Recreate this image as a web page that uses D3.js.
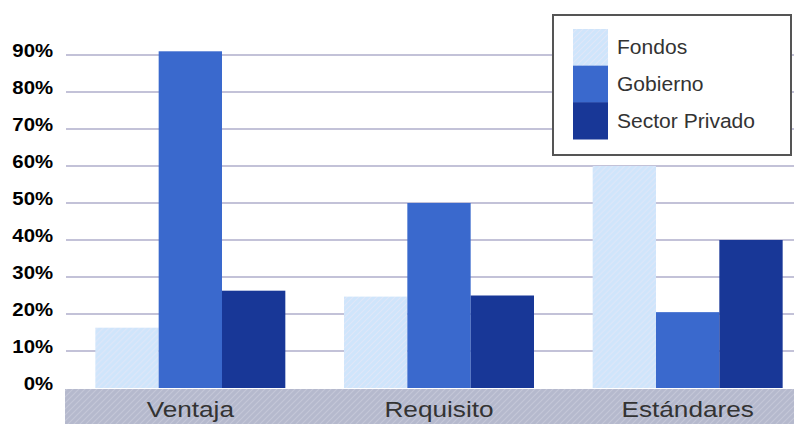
<!DOCTYPE html>
<html>
<head>
<meta charset="utf-8">
<script src="https://cdn.jsdelivr.net/npm/d3@7"></script>
<style>
  html, body { margin: 0; padding: 0; background: #fff; }
  svg { display: block; }
</style>
</head>
<body>
<svg id="chart" width="794" height="424"></svg>
<script>
// Data
const categories = ["Ventaja", "Requisito", "Estándares"];
const seriesNames = ["Fondos", "Gobierno", "Sector Privado"];
const fondos = [0.163, 0.247, 0.60];
const gobierno = [0.91, 0.50, 0.205];
const sectorPrivado = [0.263, 0.25, 0.40];
const yTicks = [0, 0.1, 0.2, 0.3, 0.4, 0.5, 0.6, 0.7, 0.8, 0.9];

const seriesValues = [fondos, gobierno, sectorPrivado];
const fills = ["url(#hatchFondos)", "#3a69cd", "#183797"];

const svg = d3.select("#chart");
const W = 794, H = 424;
const plotLeft = 66, plotRight = 794;

// Diagonal hatch patterns
const defs = svg.append("defs");
function hatch(id, base, line) {
  const p = defs.append("pattern")
    .attr("id", id).attr("patternUnits", "userSpaceOnUse")
    .attr("width", 6).attr("height", 6);
  p.append("rect").attr("width", 6).attr("height", 6).attr("fill", base);
  p.append("path")
    .attr("d", "M-1,1 L1,-1 M0,6 L6,0 M5,7 L7,5")
    .attr("stroke", line).attr("stroke-width", 1.2);
}
hatch("hatchFondos", "#cfe5fb", "#dfe7f8");
hatch("hatchBand", "#b5b9cd", "#c4c7d8");

// Scales
const x0 = d3.scaleBand()
  .domain(categories)
  .range([66, 812])
  .paddingInner(0.236)
  .paddingOuter(0.118);
const x1 = d3.scaleBand()
  .domain(seriesNames)
  .range([0, x0.bandwidth()]);
const y = d3.scaleLinear().domain([0, 0.9]).range([388, 55]);

// Gridlines
svg.append("g").selectAll("line")
  .data(yTicks.filter(d => d > 0))
  .join("line")
  .attr("x1", plotLeft).attr("x2", plotRight)
  .attr("y1", d => y(d)).attr("y2", d => y(d))
  .attr("stroke", "#afaecb").attr("stroke-width", 1.4);

// Y-axis labels
const yAxis = d3.axisLeft(y).tickValues(yTicks).tickFormat(d3.format(".0%")).tickSize(0);
const yg = svg.append("g").attr("transform", "translate(53,0)").call(yAxis);
yg.select(".domain").remove();
yg.selectAll(".tick").each(function(d) {
  const t = d3.select(this);
  t.attr("transform", `translate(0,${y(d) + 1.5})`);
  t.select("text")
    .attr("x", 0).attr("y", 0).attr("dy", null)
    .attr("text-anchor", "end")
    .attr("font-family", "Liberation Sans, Arial, sans-serif")
    .attr("font-weight", "bold")
    .attr("font-size", 18)
    .attr("fill", "#000")
    .attr("transform", "scale(1.13,1)");
});

// Category band
svg.append("rect")
  .attr("x", 65).attr("y", 389).attr("width", W - 65).attr("height", H - 389)
  .attr("fill", "url(#hatchBand)");

// Bars
const groups = svg.append("g").selectAll("g")
  .data(categories)
  .join("g")
  .attr("transform", d => `translate(${x0(d)},0)`);
groups.selectAll("rect")
  .data((c, i) => seriesNames.map((s, k) => ({ s, k, v: seriesValues[k][i] })))
  .join("rect")
  .attr("x", d => x1(d.s))
  .attr("width", x1.bandwidth())
  .attr("y", d => y(d.v))
  .attr("height", d => y(0) - y(d.v))
  .attr("fill", d => fills[d.k]);

// Category labels
svg.append("g").selectAll("text")
  .data(categories)
  .join("text")
  .attr("transform", d => `translate(${x0(d) + x0.bandwidth() / 2},417) scale(1.19,1)`)
  .attr("text-anchor", "middle")
  .attr("font-family", "Liberation Sans, Arial, sans-serif")
  .attr("font-size", 22)
  .attr("fill", "#333")
  .text(d => d);

// Legend
const legend = svg.append("g");
legend.append("rect")
  .attr("x", 553).attr("y", 15).attr("width", 238).attr("height", 140)
  .attr("fill", "#fff").attr("stroke", "#555").attr("stroke-width", 2);
const sw = d3.scaleBand().domain(seriesNames).range([29, 139]);
legend.selectAll(".sw")
  .data(seriesNames)
  .join("rect")
  .attr("class", "sw")
  .attr("x", 573).attr("width", 35)
  .attr("y", d => sw(d)).attr("height", sw.bandwidth() + 0.5)
  .attr("fill", (d, i) => fills[i]);
legend.selectAll(".lt")
  .data(seriesNames)
  .join("text")
  .attr("class", "lt")
  .attr("transform", d => `translate(617,${sw(d) + sw.bandwidth() / 2 + 7}) scale(1.08,1)`)
  .attr("font-family", "Liberation Sans, Arial, sans-serif")
  .attr("font-size", 19.5)
  .attr("fill", "#333")
  .text(d => d);
</script>
</body>
</html>
